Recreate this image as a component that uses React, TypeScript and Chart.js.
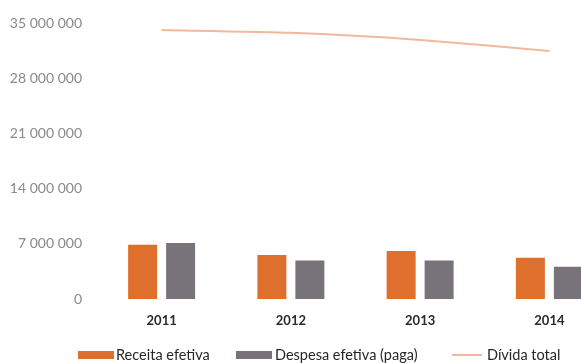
import React, { useEffect, useRef } from "react";
import { Chart, registerables } from "chart.js";

Chart.register(...registerables);

const years = ["2011", "2012", "2013", "2014"];
const receita = [6900000, 5600000, 6100000, 5250000];
const despesa = [7100000, 4900000, 4900000, 4100000];
const divida = [34150000, 33800000, 32900000, 31500000];
const yMax = 35000000;
const yStep = 7000000;

const colReceita = "#DE6F2C";
const colDespesa = "#78727A";
const colDivida = "#F3B79B";

function fmt(v: number): string {
  return String(Math.round(v)).replace(/\B(?=(\d{3})+(?!\d))/g, " ");
}

const legendFont: React.CSSProperties = {
  position: "absolute",
  top: 346,
  fontFamily: "Lato",
  fontSize: 14.5,
  color: "#262626",
  lineHeight: "18px",
  whiteSpace: "nowrap",
};

export default function App() {
  const ref = useRef<HTMLCanvasElement | null>(null);
  useEffect(() => {
    if (!ref.current) return;
    const chart = new Chart(ref.current, {
      type: "bar",
      data: {
        labels: years,
        datasets: [
          {
            type: "line",
            label: "Dívida total",
            data: divida,
            borderColor: colDivida,
            backgroundColor: colDivida,
            borderWidth: 2,
            pointRadius: 0,
            tension: 0.2,
            order: 0,
          } as any,
          {
            label: "Receita efetiva",
            data: receita,
            backgroundColor: colReceita,
            categoryPercentage: 0.588,
            barPercentage: 0.763,
            order: 1,
          } as any,
          {
            label: "Despesa efetiva (paga)",
            data: despesa,
            backgroundColor: colDespesa,
            categoryPercentage: 0.588,
            barPercentage: 0.763,
            order: 1,
          } as any,
        ],
      },
      options: {
        responsive: false,
        animation: false,
        layout: { padding: { left: 0, right: 0, top: 2, bottom: 24 } },
        scales: {
          x: {
            offset: true,
            grid: { display: false, drawTicks: false },
            border: { display: false },
            ticks: {
              padding: 14,
              color: "#2a2a2a",
              font: { family: "Lato", size: 13, weight: "bold" },
            },
            afterFit: (s: any) => {
              s.height = 40;
            },
          },
          y: {
            min: 0,
            max: yMax,
            grid: { display: false, drawTicks: false },
            border: { display: false },
            ticks: {
              stepSize: yStep,
              padding: 15,
              color: "#8a8a8a",
              font: { family: "Lato", size: 14 },
              callback: (v: any) => fmt(Number(v)),
            },
            afterFit: (s: any) => {
              s.width = 97;
            },
          },
        },
        plugins: {
          legend: { display: false },
          tooltip: { enabled: false },
        },
      },
    });
    return () => chart.destroy();
  }, []);
  return (
    <div
      style={{
        position: "fixed",
        left: 0,
        top: 0,
        width: 581,
        height: 363,
        overflow: "hidden",
        background: "#fff",
      }}
    >
      <canvas ref={ref} width={614} height={363} style={{ display: "block" }} />
      <div style={{ position: "absolute", left: 78, top: 351, width: 36, height: 8, background: colReceita }} />
      <div style={{ ...legendFont, left: 116 }}>Receita efetiva</div>
      <div style={{ position: "absolute", left: 236, top: 351, width: 36, height: 8, background: colDespesa }} />
      <div style={{ ...legendFont, left: 275 }}>Despesa efetiva (paga)</div>
      <div style={{ position: "absolute", left: 452, top: 354, width: 30, height: 1.5, background: colDivida }} />
      <div style={{ ...legendFont, left: 487 }}>Dívida total</div>
    </div>
  );
}
